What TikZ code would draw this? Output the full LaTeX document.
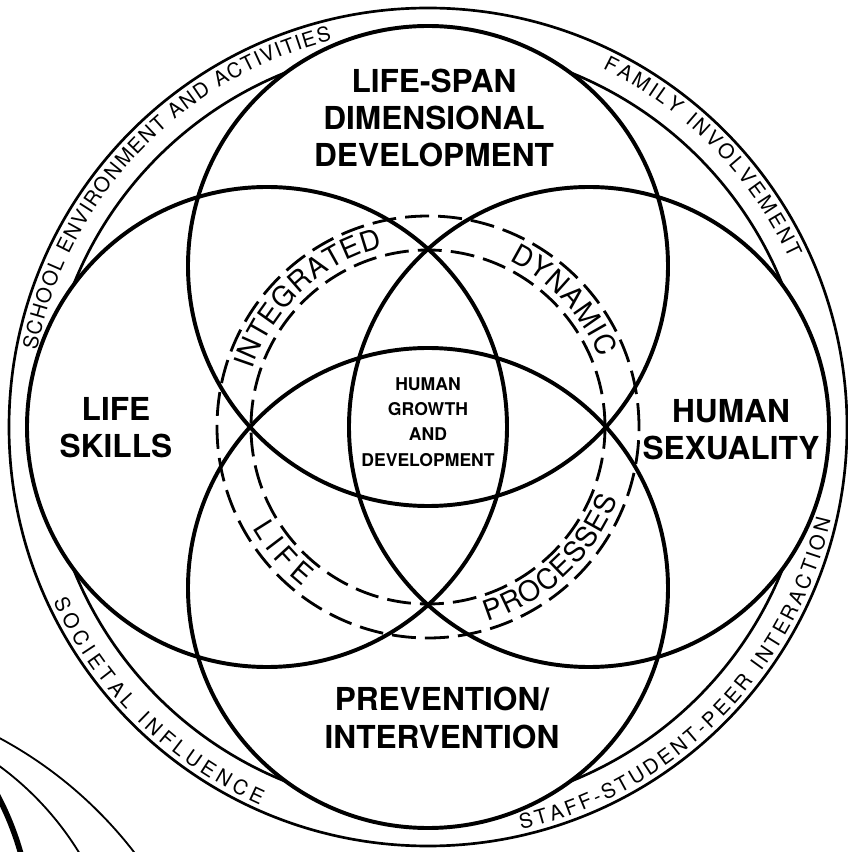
\documentclass[tikz,border=0pt]{standalone}
\usepackage{fontspec}
\setmainfont{TeX Gyre Heros}
\usetikzlibrary{decorations.text}

\tikzset{
  ring/.style={line width=1.9pt},
  sphere/.style={line width=2.8pt},
  process/.style={line width=2pt, dash pattern=on 17pt off 6.5pt},
  area/.style={font=\fontsize{22.5}{26.5}\selectfont\bfseries, align=center, inner sep=0pt},
  core/.style={font=\fontsize{12.5}{18}\selectfont\bfseries, align=center, inner sep=0pt},
  bandtext/.style={decorate, decoration={text along path, text align=fit to path,
    text={|\fontsize{14.5}{14.5}\selectfont|#1}}},
  flowtext/.style={decorate, decoration={text along path, text align=fit to path,
    text={|\fontsize{20}{20}\selectfont|#1}}},
}

\begin{document}
\begin{tikzpicture}[x=0.025cm, y=0.025cm]
\useasboundingbox (-428,-425) rectangle (419,427);
\coordinate (c) at (0,0);

% outer band
\draw[ring] (c) circle[radius=419];
\foreach \q in {0,90,180,270}
  \draw[ring] (c) ++({\q+21.8}:382) arc[start angle=\q+21.8, end angle=\q+68.2, radius=382];

% the four areas
\foreach \a in {0,90,180,270}
  \draw[sphere] (\a:161) circle[radius=240];

% dashed band
\draw[process] (c) circle[radius=177];
\draw[process] (c) circle[radius=211];

\node[area] (span) at (6,309) {LIFE-SPAN\\DIMENSIONAL\\DEVELOPMENT};
\node[area] (skills) at (-312,-1) {LIFE\\SKILLS};
\node[area] (sexuality) at (303,-3) {HUMAN\\SEXUALITY};
\node[area] (prevention) at (14,-291) {PREVENTION/\\INTERVENTION};
\node[core] (growth) at (0,5) {HUMAN\\GROWTH\\AND\\DEVELOPMENT};

% words in the outer band
\path[bandtext=SCHOOL ENVIRONMENT AND ACTIVITIES]
  (169:398.5) arc[start angle=169, end angle=104, radius=398.5];
\path[bandtext=FAMILY INVOLVEMENT]
  (64:398.5) arc[start angle=64, end angle=25, radius=398.5];
\path[bandtext=SOCIETAL INFLUENCE]
  (205:413.5) arc[start angle=205, end angle=246, radius=413.5];
\path[bandtext=STAFF-STUDENT-PEER INTERACTION]
  (283:413.5) arc[start angle=283, end angle=347, radius=413.5];

% words in the dashed band
\path[flowtext=INTEGRATED]
  (162:185) arc[start angle=162, end angle=104, radius=185];
\path[flowtext=DYNAMIC]
  (64:185) arc[start angle=64, end angle=22, radius=185];
\path[flowtext=LIFE]
  (210:203) arc[start angle=210, end angle=232, radius=203];
\path[flowtext=PROCESSES]
  (287:203) arc[start angle=287, end angle=339, radius=203];

% edge of the next figure on the page
\begin{scope}
\clip (-428,-425) rectangle (419,427);
\draw[line width=1.3pt] (-628,-683) circle[radius=422];
\draw[line width=1.3pt] (-609,-585) circle[radius=305];
\draw[line width=4pt] (-696,-508) circle[radius=300];
\end{scope}
\end{tikzpicture}
\end{document}
